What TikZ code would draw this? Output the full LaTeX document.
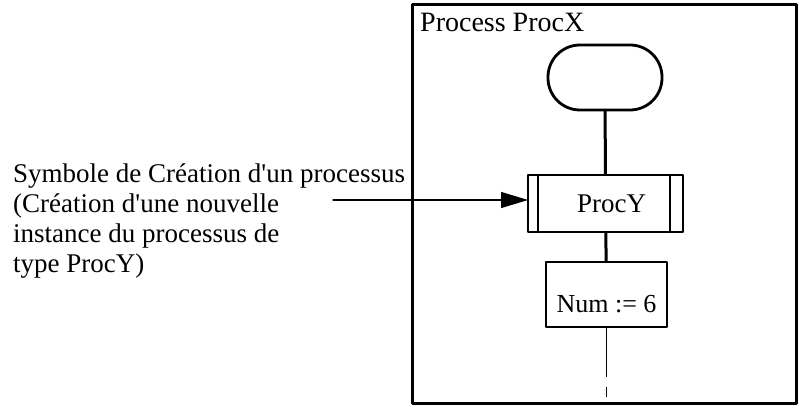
\documentclass[tikz,border=0pt]{standalone}
\usepackage{fontspec}
\setmainfont{Liberation Serif}
\usetikzlibrary{arrows.meta}
\usetikzlibrary{positioning}

\begin{document}
\begin{tikzpicture}[line cap=round,line join=round,x=1pt,y=-1pt,
  txt/.style={font=\fontsize{27}{30}\selectfont,inner sep=0pt},
  debutbox/.style={draw,line width=2.8pt,rectangle,rounded corners=32pt,minimum width=114pt,minimum height=65pt,outer sep=0pt},
  creabox/.style={draw,line width=2.8pt,rectangle,minimum width=155pt,minimum height=57pt,outer sep=0pt,font=\fontsize{27}{30}\selectfont},
  tachebox/.style={draw,line width=2.8pt,rectangle,minimum width=121pt,minimum height=65pt,outer sep=0pt,font=\fontsize{26}{30}\selectfont},
  lien/.style={line width=3pt,line cap=butt},
  lienfin/.style={line width=1.1pt,line cap=butt},
  fleche/.style={line width=1.2pt,-{Triangle[length=27pt,width=16pt]}}]
\useasboundingbox (0,0) rectangle (798,406);
% cadre du processus
\draw[line width=3pt] (412,5) rectangle (796,403);
\node[txt,font=\fontsize{28}{30}\selectfont,anchor=base west] (titre) at (420,32) {Process ProcX};
% symboles
\node[debutbox] (debut) at (605,77.5) {};
\node[creabox] (procy) at (605.5,203.5) {\hspace{12pt}ProcY};
\node[tachebox,text height=35pt,text depth=0pt] (num) at (606.5,294.5) {Num := 6};
\draw[line width=2.5pt] ([xshift=10pt]procy.north west) -- ([xshift=10pt]procy.south west);
\draw[line width=2.5pt] ([xshift=-13pt]procy.north east) -- ([xshift=-13pt]procy.south east);
% liens
\draw[lien] (debut) -- (procy);
\draw[lien] (procy) -- (num);
\coordinate (suite) at (606.5,377);
\coordinate (suitea) at (606.5,387);
\coordinate (suiteb) at (606.5,397);
\draw[lienfin] (num) -- (suite);
\draw[lienfin] (suitea) -- (suiteb);
% commentaire
\node[txt,align=left,anchor=north west] (comment) at (13,163.5)
  {Symbole de Création d\textquotesingle un processus\\(Création d\textquotesingle une nouvelle\\instance du processus de\\type ProcY)};
\coordinate (depart) at (333,200);
\draw[fleche] (depart) -- (depart -| procy.west);
\end{tikzpicture}
\end{document}
